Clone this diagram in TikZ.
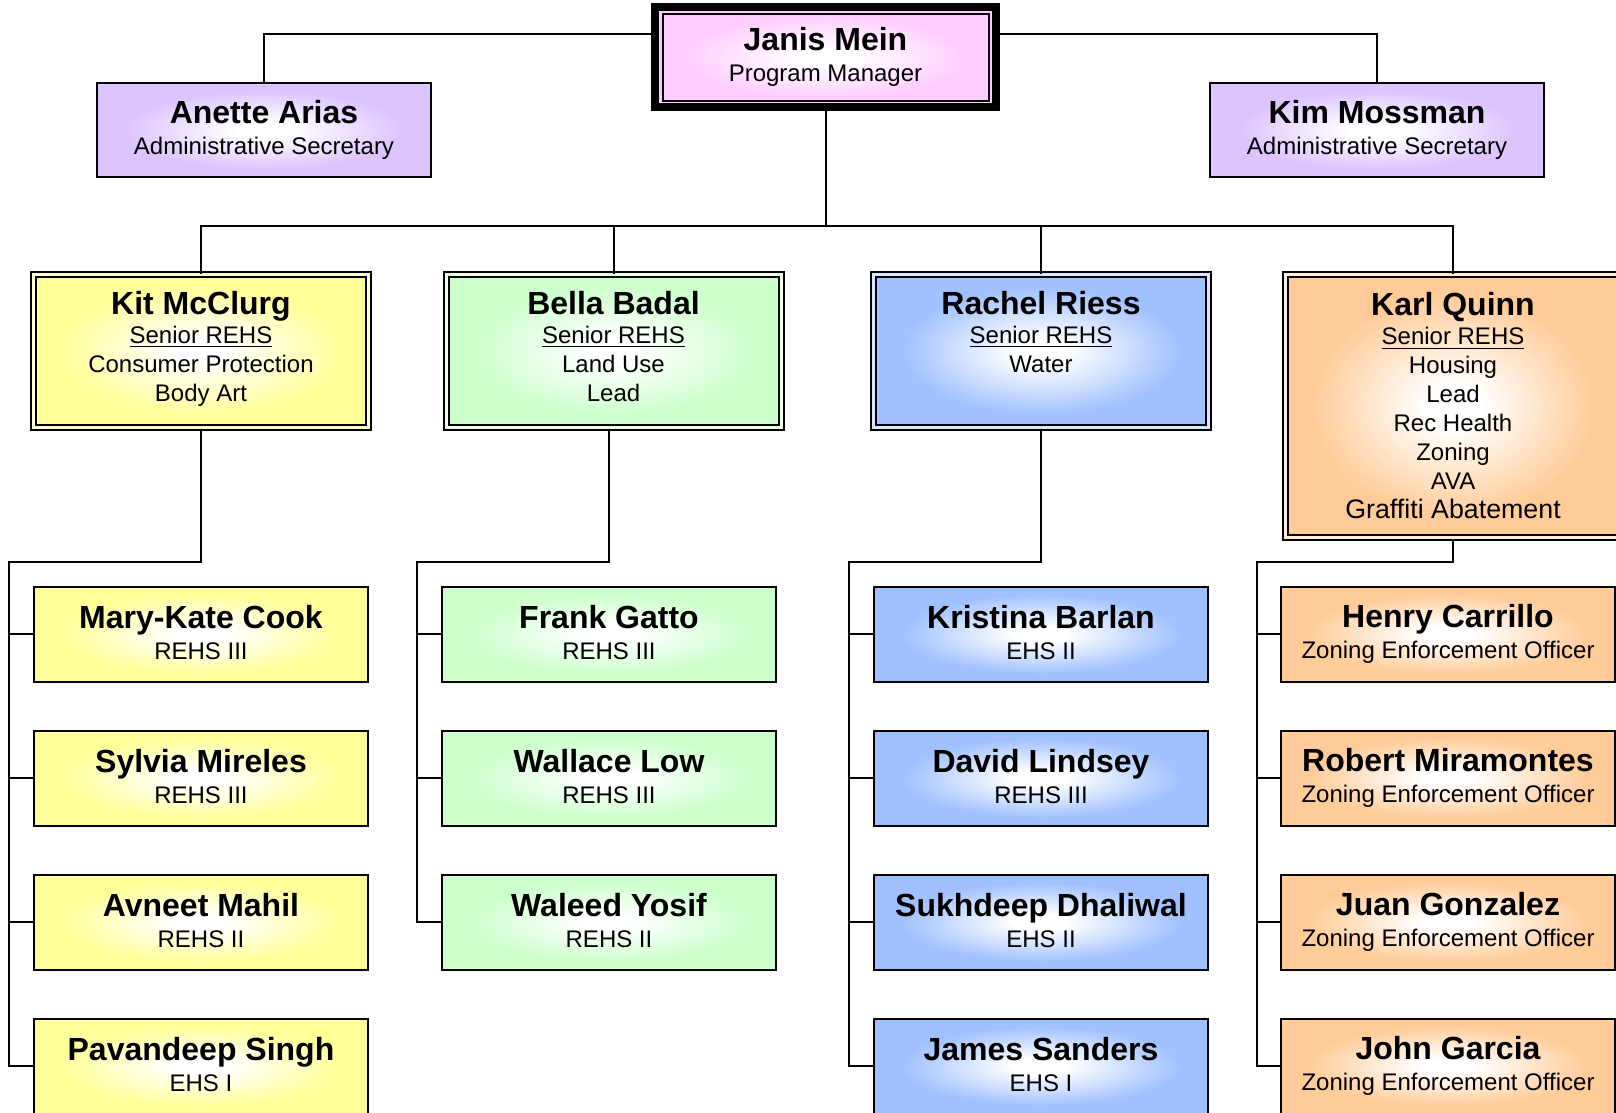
\documentclass[tikz,border=0pt]{standalone}
\usepackage{fontspec}
\setmainfont{Liberation Sans}

\definecolor{pinkbox}{HTML}{FFCCFF}
\definecolor{lilacbox}{HTML}{DCC4FF}
\definecolor{yellowbox}{HTML}{FFFF99}
\definecolor{greenbox}{HTML}{CCFFCC}
\definecolor{bluebox}{HTML}{A0C0FF}
\definecolor{orangebox}{HTML}{FFCC99}
\colorlet{glowout}{white}
\pgfdeclareradialshading[glowout]{glow}{\pgfpointorigin}{color(0bp)=(white); color(4bp)=(white); color(21bp)=(glowout); color(50bp)=(glowout)}
\newcommand\person[1]{{\fontsize{16}{18}\selectfont\bfseries #1}}
\newcommand\lowend{\rule[-2pt]{0pt}{0pt}}

\begin{document}
\begin{tikzpicture}[x=0.5pt, y=-0.5pt, line width=1pt,
  card/.style={draw, line width=1pt, inner sep=0pt, align=center, shade, shading=glow,
    /utils/exec={\colorlet{glowout}{#1}}, font=\fontsize{12}{14.5}\selectfont},
  boss/.style={card=#1, line width=4pt, minimum width=170.5pt, minimum height=50pt},
  sec/.style={card=#1, minimum width=167pt, minimum height=47pt},
  lead/.style={card=#1, double=#1!40, double distance=1.5pt, minimum width=167.5pt, minimum height=76.5pt},
  staff/.style={card=#1, minimum width=167pt, minimum height=47.5pt}]
\useasboundingbox (0,0) rectangle (1616,1113);
\clip (0,0) rectangle (1616,1113);

% manager and secretaries
\node[boss=pinkbox] (A0) at (825.5,57) {\person{Janis Mein}\\[1pt] Program Manager};
\draw ([shift={(12,11)}]A0.north west) rectangle ([shift={(-11,-10)}]A0.south east);
\node[sec=lilacbox] (A1) at (264,130) {\person{Anette Arias}\\[1pt] Administrative Secretary};
\node[sec=lilacbox] (A2) at (1377,130) {\person{Kim Mossman}\\[1pt] Administrative Secretary};

% senior REHS
\node[lead=yellowbox] (L1) at (201,351) {\person{Kit McClurg}\\ \underline{Senior REHS}\\ Consumer Protection\\ Body Art\strut};
\node[lead=greenbox] (L2) at (613.5,351) {\person{Bella Badal}\\ \underline{Senior REHS}\\ Land Use\\ Lead\strut};
\node[lead=bluebox] (L3) at (1041,351) {\person{Rachel Riess}\\ \underline{Senior REHS}\\ Water\\ \strut};
\node[lead=orangebox, minimum height=131.5pt] (L4) at (1453,406) {\person{Karl Quinn}\\ \underline{Senior REHS}\\ Housing\\ Lead\\ Rec Health\\ Zoning\\ AVA\\ {\fontsize{13.4}{15}\selectfont Graffiti Abatement}};

% staff
\node[staff=yellowbox] (E11) at (201,634) {\person{Mary-Kate Cook}\\[1pt] REHS III\lowend};
\node[staff=yellowbox] (E12) at (201,778) {\person{Sylvia Mireles}\\[1pt] REHS III\lowend};
\node[staff=yellowbox] (E13) at (201,922) {\person{Avneet Mahil}\\[1pt] REHS II\lowend};
\node[staff=yellowbox] (E14) at (201,1066) {\person{Pavandeep Singh}\\[1pt] EHS I\lowend};
\node[staff=greenbox] (E21) at (609,634) {\person{Frank Gatto}\\[1pt] REHS III\lowend};
\node[staff=greenbox] (E22) at (609,778) {\person{Wallace Low}\\[1pt] REHS III\lowend};
\node[staff=greenbox] (E23) at (609,922) {\person{Waleed Yosif}\\[1pt] REHS II\lowend};
\node[staff=bluebox] (E31) at (1041,634) {\person{Kristina Barlan}\\[1pt] EHS II\lowend};
\node[staff=bluebox] (E32) at (1041,778) {\person{David Lindsey}\\[1pt] REHS III\lowend};
\node[staff=bluebox] (E33) at (1041,922) {\person{Sukhdeep Dhaliwal}\\[1pt] EHS II\lowend};
\node[staff=bluebox] (E34) at (1041,1066) {\person{James Sanders}\\[1pt] EHS I\lowend};
\node[staff=orangebox] (E41) at (1448,634) {\person{Henry Carrillo}\\[1pt] Zoning Enforcement Officer\lowend};
\node[staff=orangebox] (E42) at (1448,778) {\person{Robert Miramontes}\\[1pt] Zoning Enforcement Officer\lowend};
\node[staff=orangebox] (E43) at (1448,922) {\person{Juan Gonzalez}\\[1pt] Zoning Enforcement Officer\lowend};
\node[staff=orangebox] (E44) at (1448,1066) {\person{John Garcia}\\[1pt] Zoning Enforcement Officer\lowend};

% lines
\coordinate (B0) at (825.5,226);
\coordinate (T1) at (9,562);
\coordinate (T2) at (417,562);
\coordinate (T3) at (849,562);
\coordinate (T4) at (1257,562);
\draw ([yshift=11.5pt]A0.west) -| (A1.north);
\draw ([yshift=11.5pt]A0.east) -| (A2.north);
\draw (A0.south) -- (B0);
\draw (B0) -| (L1.north);
\draw (B0) -| (L2.north);
\draw (B0) -| (L3.north);
\draw (B0) -| (L4.north);
\draw (L1.south) |- (T1) |- (E14.west);
\draw (T1 |- E11.west) -- (E11.west);
\draw (T1 |- E12.west) -- (E12.west);
\draw (T1 |- E13.west) -- (E13.west);
\draw (L2.south -| E21.north) |- (T2) |- (E23.west);
\draw (T2 |- E21.west) -- (E21.west);
\draw (T2 |- E22.west) -- (E22.west);
\draw (L3.south) |- (T3) |- (E34.west);
\draw (T3 |- E31.west) -- (E31.west);
\draw (T3 |- E32.west) -- (E32.west);
\draw (T3 |- E33.west) -- (E33.west);
\draw (L4.south) |- (T4) |- (E44.west);
\draw (T4 |- E41.west) -- (E41.west);
\draw (T4 |- E42.west) -- (E42.west);
\draw (T4 |- E43.west) -- (E43.west);
\end{tikzpicture}
\end{document}
